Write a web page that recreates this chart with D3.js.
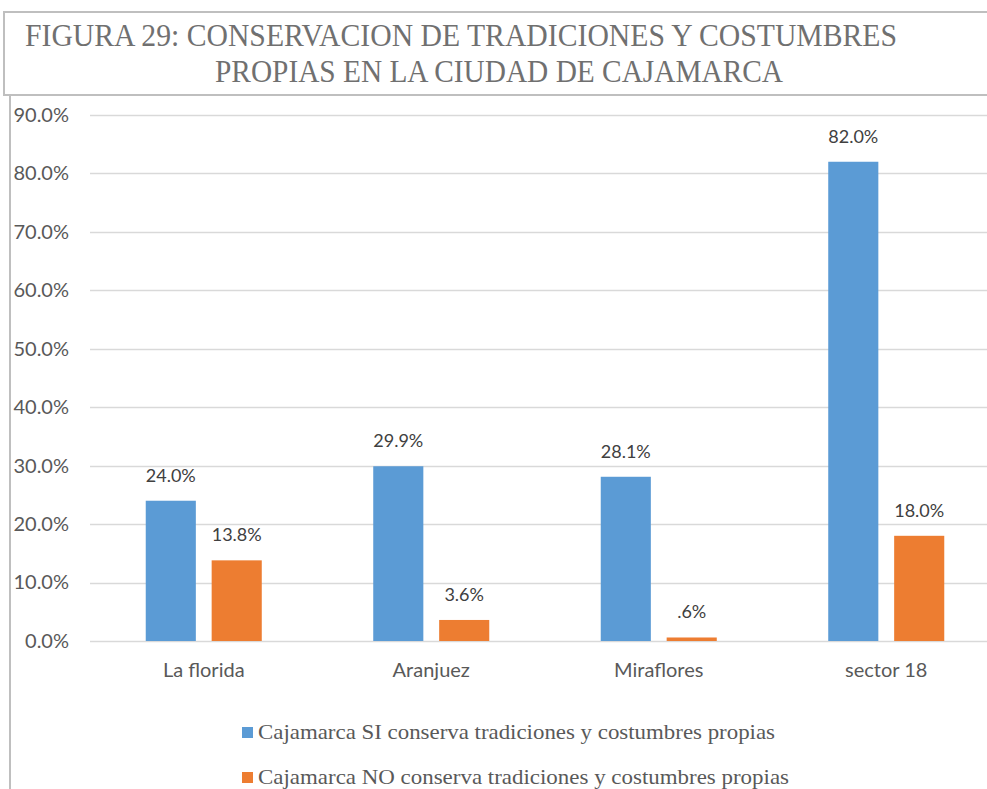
<!DOCTYPE html>
<html>
<head>
<meta charset="utf-8">
<script src="https://cdn.jsdelivr.net/npm/d3@7"></script>
<style>
  body { margin: 0; background: #fff; overflow: hidden; }
  svg { display: block; }
</style>
</head>
<body>
<svg id="chart" width="987" height="789"></svg>
<script>
var CATEGORIES = ['La florida', 'Aranjuez', 'Miraflores', 'sector 18'];
var SERIES = [
    'Cajamarca SI conserva tradiciones y costumbres  propias',
    'Cajamarca NO conserva tradiciones y costumbres  propias'
];
var SI_VALUES = [0.240, 0.299, 0.281, 0.820];
var NO_VALUES = [0.138, 0.036, 0.006, 0.180];
var LABELS_SI = ['24.0%', '29.9%', '28.1%', '82.0%'];
var LABELS_NO = ['13.8%', '3.6%', '.6%', '18.0%'];
var Y_TICKS = [0, 0.1, 0.2, 0.3, 0.4, 0.5, 0.6, 0.7, 0.8, 0.9];
var COLORS = ['#5B9BD5', '#ED7D31'];

var svg = d3.select('#chart');
var sansFont = 'Lato, "Open Sans", sans-serif';
var serifFont = '"Liberation Serif", "Times New Roman", serif';

// title box
svg.append('rect')
    .attr('x', 4).attr('y', 12)
    .attr('width', 1000).attr('height', 83)
    .attr('fill', 'none')
    .attr('stroke', '#bfbfbf')
    .attr('stroke-width', 2);

svg.append('text')
    .attr('x', 25).attr('y', 46)
    .attr('font-family', serifFont)
    .attr('font-size', 32)
    .attr('fill', '#707070')
    .attr('textLength', 872)
    .attr('lengthAdjust', 'spacingAndGlyphs')
    .text('FIGURA 29: CONSERVACION DE TRADICIONES Y COSTUMBRES');

svg.append('text')
    .attr('x', 215).attr('y', 82)
    .attr('font-family', serifFont)
    .attr('font-size', 32)
    .attr('fill', '#707070')
    .attr('textLength', 568)
    .attr('lengthAdjust', 'spacingAndGlyphs')
    .text('PROPIAS EN LA CIUDAD DE CAJAMARCA');

// chart frame left edge
svg.append('line')
    .attr('x1', 10).attr('x2', 10)
    .attr('y1', 96).attr('y2', 789)
    .attr('stroke', '#bfbfbf')
    .attr('stroke-width', 2);

var x0 = d3.scaleBand()
    .domain(CATEGORIES)
    .range([90, 1000])
    .paddingInner(0.49)
    .paddingOuter(0.245);

var x1 = d3.scaleBand()
    .domain([0, 1])
    .range([0, x0.bandwidth()])
    .paddingInner(0.24);

var y = d3.scaleLinear()
    .domain([0, 0.9])
    .range([641, 115]);

// gridlines
svg.append('g').selectAll('line')
    .data(Y_TICKS)
    .enter().append('line')
    .attr('x1', 90).attr('x2', 987)
    .attr('y1', function(d){ return Math.round(y(d)) + 0.5; })
    .attr('y2', function(d){ return Math.round(y(d)) + 0.5; })
    .attr('stroke', '#d9d9d9')
    .attr('stroke-width', 1.5);

// y axis labels
var yAxis = d3.axisLeft(y)
    .tickValues(Y_TICKS)
    .tickSize(0)
    .tickPadding(0)
    .tickFormat(d3.format('.1%'));

var gy = svg.append('g')
    .attr('transform', 'translate(69,0)')
    .call(yAxis);
gy.select('.domain').remove();
gy.selectAll('text')
    .attr('font-family', sansFont)
    .attr('font-size', 20)
    .attr('fill', '#595959');

// x axis labels
var xAxis = d3.axisBottom(x0).tickSize(0).tickPadding(0);
var gx = svg.append('g')
    .attr('transform', 'translate(0,663)')
    .call(xAxis);
gx.select('.domain').remove();
gx.selectAll('text')
    .attr('font-family', sansFont)
    .attr('font-size', 20)
    .attr('fill', '#595959');

// bars
var rows = CATEGORIES.map(function(c, i){
    return {cat: c, vals: [
        {s: 0, v: SI_VALUES[i], label: LABELS_SI[i]},
        {s: 1, v: NO_VALUES[i], label: LABELS_NO[i]}
    ]};
});

var groups = svg.append('g').selectAll('g')
    .data(rows)
    .enter().append('g')
    .attr('transform', function(d){ return 'translate(' + x0(d.cat) + ',0)'; });

groups.selectAll('rect')
    .data(function(d){ return d.vals; })
    .enter().append('rect')
    .attr('x', function(d){ return x1(d.s); })
    .attr('y', function(d){ return y(d.v); })
    .attr('width', x1.bandwidth())
    .attr('height', function(d){ return y(0) - y(d.v); })
    .attr('fill', function(d){ return COLORS[d.s]; });

groups.selectAll('text')
    .data(function(d){ return d.vals; })
    .enter().append('text')
    .attr('x', function(d){ return x1(d.s) + x1.bandwidth() / 2; })
    .attr('y', function(d){ return y(d.v) - 19; })
    .attr('text-anchor', 'middle')
    .attr('font-family', sansFont)
    .attr('font-size', 18)
    .attr('fill', '#404040')
    .text(function(d){ return d.label; });

// legend
var legend = svg.append('g').selectAll('g')
    .data(SERIES)
    .enter().append('g')
    .attr('transform', function(d, i){ return 'translate(242,' + (727 + i * 45) + ')'; });

legend.append('rect')
    .attr('width', 11).attr('height', 11)
    .attr('fill', function(d, i){ return COLORS[i]; });

legend.append('text')
    .attr('x', 16).attr('y', 12)
    .attr('font-family', serifFont)
    .attr('font-size', 22)
    .attr('fill', '#595959')
    .attr('textLength', function(d, i){ return i === 0 ? 517 : 531; })
    .attr('lengthAdjust', 'spacingAndGlyphs')
    .text(function(d){ return d; });
</script>
</body>
</html>
